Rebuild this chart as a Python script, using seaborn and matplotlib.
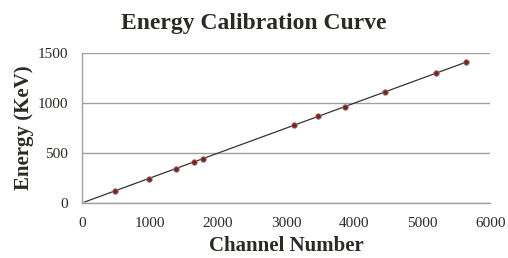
import matplotlib
matplotlib.use('Agg')
import matplotlib.pyplot as plt
import seaborn as sns
import numpy as np
import pandas as pd

# Eu-152 calibration peaks
channels = [485, 985, 1387, 1652, 1784, 3118, 3475, 3872, 4460, 5210, 5647]
energies = [121.8, 244.7, 344.3, 411.1, 444.0, 778.9, 867.4, 964.1, 1112.1, 1299.1, 1408.0]
x_ticks = [0, 1000, 2000, 3000, 4000, 5000, 6000]
y_ticks = [0, 500, 1000, 1500]

df = pd.DataFrame({'Channel': channels, 'Energy': energies})

sns.set_style('white')
plt.rcParams['font.family'] = ['Liberation Serif', 'DejaVu Serif']
txt = '#2b2a24'

fig = plt.figure(figsize=(5.08, 2.58), dpi=100)
ax = fig.add_axes([0.161, 0.213, 0.804, 0.582])

# linear fit through origin (trendline)
slope = np.sum(df['Channel'] * df['Energy']) / np.sum(df['Channel'] ** 2)
fit = pd.DataFrame({'Channel': [0, max(channels)]})
fit['Energy'] = slope * fit['Channel']
sns.lineplot(data=fit, x='Channel', y='Energy', ax=ax, color='#333333', linewidth=0.9,
             marker='o', markersize=2.5, markevery=[0])

sns.scatterplot(data=df, x='Channel', y='Energy', ax=ax, color='#8b1a1a', s=16,
                edgecolor='#888888', linewidth=0.6, zorder=3)

ax.set_xlim(0, 6000)
ax.set_ylim(0, 1500)
ax.set_xticks(x_ticks)
ax.set_yticks(y_ticks)
ax.yaxis.grid(True, color='#a0a0a0', linewidth=1)
ax.xaxis.grid(False)
for s in ['top', 'right']:
    ax.spines[s].set_visible(False)
for s in ['left', 'bottom']:
    ax.spines[s].set_color('#a0a0a0')
    ax.spines[s].set_linewidth(1)
ax.tick_params(length=0, labelsize=11, labelcolor=txt)
ax.tick_params(axis='x', pad=10)
ax.tick_params(axis='y', pad=10)

ax.set_xlabel('Channel Number', fontsize=15, fontweight='bold', color=txt)
ax.set_ylabel('Energy (KeV)', fontsize=15, fontweight='bold', color=txt)
ax.xaxis.set_label_coords(0.5, -0.22)
ax.yaxis.set_label_coords(-0.118, 0.5)
fig.suptitle('Energy Calibration Curve', fontsize=17, fontweight='bold', color=txt,
             x=0.5, y=0.948)

fig.savefig('out.png', dpi=100)
